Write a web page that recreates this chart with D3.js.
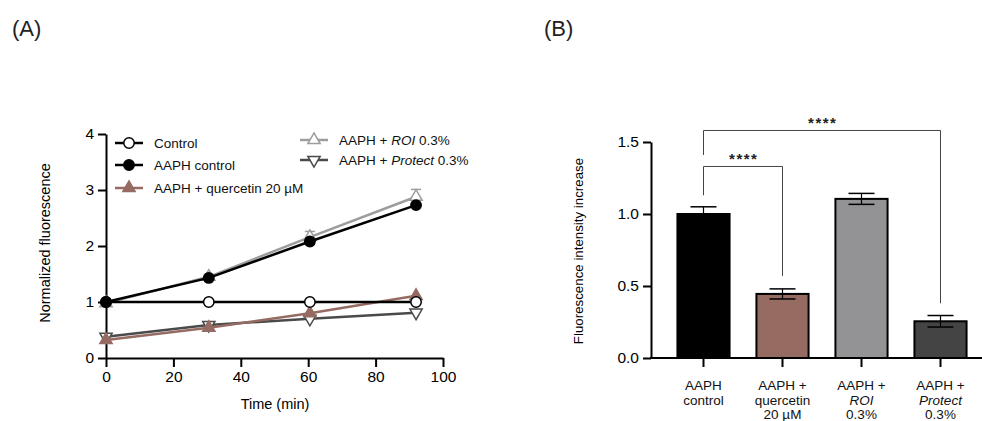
<!DOCTYPE html>
<html>
<head>
<meta charset="utf-8">
<script src="https://cdn.jsdelivr.net/npm/d3@7"></script>
<style>
  body { margin: 0; background: #fff; }
  svg { font-family: Arial, "Liberation Sans", sans-serif; }
</style>
</head>
<body>
<div id="chart"></div>
<script>
// ---- data: panel A (time course) ----
var timePoints = [0, 30.5, 60.5, 92];
var controlVals = [1, 1, 1, 1];
var aaphVals = [1, 1.43, 2.08, 2.73];
var quercetinVals = [0.32, 0.54, 0.8, 1.11];
var roiVals = [0.98, 1.45, 2.16, 2.88];
var roiErr = [0.02, 0.04, 0.1, 0.13];
var protectVals = [0.38, 0.59, 0.7, 0.81];
var protectErr = [0.02, 0.03, 0.03, 0.04];
var xTicksA = [0, 20, 40, 60, 80, 100];
var yTicksA = [0, 1, 2, 3, 4];

// ---- data: panel B (bars) ----
var barCats = [
  [["AAPH"], ["control"]],
  [["AAPH +"], ["quercetin"], ["20 µM"]],
  [["AAPH +"], ["ROI", "i"], ["0.3%"]],
  [["AAPH +"], ["Protect", "i"], ["0.3%"]]
];
var barVals = [1.0, 0.445, 1.105, 0.255];
var barErr = [0.05, 0.035, 0.038, 0.04];
var barColors = ["#000000", "#956b62", "#939396", "#444444"];
var yTicksB = [0.0, 0.5, 1.0, 1.5];

var svgWidth = 982;
var svgHeight = 421;

var svg = d3.select("#chart")
  .append("svg")
  .attr("width", svgWidth)
  .attr("height", svgHeight);

// panel labels
svg.append("text").attr("x", 12).attr("y", 36).attr("font-size", "22px").attr("fill", "#222").text("(A)");
svg.append("text").attr("x", 544).attr("y", 36).attr("font-size", "22px").attr("fill", "#222").text("(B)");

// ================= Panel A =================
var xA = d3.scaleLinear().domain([0, 100]).range([106, 443]);
var yA = d3.scaleLinear().domain([0, 4]).range([358, 134]);

var gA = svg.append("g");

var xAxisA = gA.append("g")
  .attr("transform", "translate(0,358)")
  .call(d3.axisBottom(xA).tickValues(xTicksA).tickFormat(d3.format("d")).tickSize(9).tickSizeOuter(0).tickPadding(4));
var yAxisA = gA.append("g")
  .attr("transform", "translate(106,0)")
  .call(d3.axisLeft(yA).tickValues(yTicksA).tickFormat(d3.format("d")).tickSize(8).tickSizeOuter(0).tickPadding(4));

[xAxisA, yAxisA].forEach(function(ax) {
  ax.selectAll("path, line").attr("stroke", "#000").attr("stroke-width", 2);
  ax.selectAll("text").attr("font-size", "15.5px").attr("fill", "#000").attr("font-family", "Arial, 'Liberation Sans', sans-serif");
});

gA.append("text")
  .attr("x", 275).attr("y", 409)
  .attr("text-anchor", "middle")
  .attr("font-size", "14.5px")
  .text("Time (min)");

gA.append("text")
  .attr("transform", "translate(50,243) rotate(-90)")
  .attr("text-anchor", "middle")
  .attr("font-size", "14.5px")
  .text("Normalized fluorescence");

var line = d3.line()
  .x(function(d) { return xA(d.t); })
  .y(function(d) { return yA(d.v); });

function zipSeries(vals) {
  return timePoints.map(function(t, i) { return { t: t, v: vals[i] }; });
}

var series = [
  { name: "roi", vals: roiVals, err: roiErr, color: "#9d9d9f", symbol: d3.symbolTriangle, rot: 0, fill: "#fff" },
  { name: "protect", vals: protectVals, err: protectErr, color: "#4a4a4a", symbol: d3.symbolTriangle, rot: 180, fill: "#fff" },
  { name: "quercetin", vals: quercetinVals, err: null, color: "#956b62", symbol: d3.symbolTriangle, rot: 0, fill: "#956b62" },
  { name: "control", vals: controlVals, err: null, color: "#000", symbol: d3.symbolCircle, rot: 0, fill: "#fff" },
  { name: "aaph", vals: aaphVals, err: null, color: "#000", symbol: d3.symbolCircle, rot: 0, fill: "#000" }
];

series.forEach(function(s) {
  var pts = zipSeries(s.vals);
  var g = gA.append("g");
  if (s.err) {
    pts.forEach(function(d, i) {
      var top = yA(d.v + s.err[i]);
      g.append("line")
        .attr("x1", xA(d.t)).attr("x2", xA(d.t))
        .attr("y1", yA(d.v)).attr("y2", top)
        .attr("stroke", s.color).attr("stroke-width", 1.5);
      g.append("line")
        .attr("x1", xA(d.t) - 5).attr("x2", xA(d.t) + 5)
        .attr("y1", top).attr("y2", top)
        .attr("stroke", s.color).attr("stroke-width", 1.5);
    });
  }
  g.append("path")
    .attr("d", line(pts))
    .attr("fill", "none")
    .attr("stroke", s.color)
    .attr("stroke-width", 2.5);
  var size = s.symbol === d3.symbolCircle ? 85 : 65;
  g.selectAll(".pt")
    .data(pts)
    .enter()
    .append("path")
    .attr("d", d3.symbol().type(s.symbol).size(size))
    .attr("transform", function(d) {
      return "translate(" + xA(d.t) + "," + yA(d.v) + ") rotate(" + s.rot + ")";
    })
    .attr("fill", s.fill)
    .attr("stroke", s.color)
    .attr("stroke-width", 1.5);
});

// legend
var byName = {};
series.forEach(function(s) { byName[s.name] = s; });

var legendItems = [
  { s: "control", x: 115, y: 143, parts: [["Control"]] },
  { s: "aaph", x: 115, y: 165, parts: [["AAPH control"]] },
  { s: "quercetin", x: 115, y: 188, parts: [["AAPH + quercetin 20 µM"]] },
  { s: "roi", x: 300, y: 140, parts: [["AAPH + "], ["ROI", "i"], [" 0.3%"]] },
  { s: "protect", x: 300, y: 160, parts: [["AAPH + "], ["Protect", "i"], [" 0.3%"]] }
];

legendItems.forEach(function(it) {
  var s = byName[it.s];
  var lg = gA.append("g").attr("transform", "translate(" + it.x + "," + it.y + ")");
  lg.append("line")
    .attr("x1", 0).attr("x2", 28).attr("y1", 0).attr("y2", 0)
    .attr("stroke", s.color).attr("stroke-width", 2.5);
  lg.append("path")
    .attr("d", d3.symbol().type(s.symbol).size(s.symbol === d3.symbolCircle ? 85 : 65))
    .attr("transform", "translate(14,0) rotate(" + s.rot + ")")
    .attr("fill", s.fill)
    .attr("stroke", s.color)
    .attr("stroke-width", 1.5);
  var t = lg.append("text")
    .attr("x", 39).attr("y", 5)
    .attr("font-size", "13.5px")
    .attr("fill", "#111");
  it.parts.forEach(function(p) {
    t.append("tspan").attr("font-style", p[1] === "i" ? "italic" : "normal").text(p[0]);
  });
});

// ================= Panel B =================
var xB = d3.scaleBand()
  .domain(d3.range(barVals.length))
  .range([664, 980])
  .paddingInner(0.34)
  .paddingOuter(0.17);
var yB = d3.scaleLinear().domain([0, 1.5]).range([358, 142]);

var gB = svg.append("g");

var yAxisB = gB.append("g")
  .attr("transform", "translate(651,0)")
  .call(d3.axisLeft(yB).tickValues(yTicksB).tickFormat(d3.format(".1f")).tickSize(8).tickSizeOuter(0).tickPadding(4));
yAxisB.selectAll("path, line").attr("stroke", "#000").attr("stroke-width", 2);
yAxisB.selectAll("text").attr("font-size", "15.5px").attr("fill", "#000").attr("font-family", "Arial, 'Liberation Sans', sans-serif");

gB.append("text")
  .attr("transform", "translate(583,251) rotate(-90)")
  .attr("text-anchor", "middle")
  .attr("font-size", "13.3px")
  .text("Fluorescence intensity increase");

// bars
gB.selectAll(".bar")
  .data(barVals)
  .enter()
  .append("rect")
  .attr("x", function(d, i) { return xB(i); })
  .attr("y", function(d) { return yB(d); })
  .attr("width", xB.bandwidth())
  .attr("height", function(d) { return yB(0) - yB(d); })
  .attr("fill", function(d, i) { return barColors[i]; })
  .attr("stroke", "#000")
  .attr("stroke-width", 2);

// error bars (mean +/- sd)
barVals.forEach(function(v, i) {
  var cx = xB(i) + xB.bandwidth() / 2;
  var hi = yB(v + barErr[i]);
  var lo = yB(v - barErr[i]);
  gB.append("line").attr("x1", cx).attr("x2", cx).attr("y1", lo).attr("y2", hi)
    .attr("stroke", "#000").attr("stroke-width", 1.2);
  gB.append("line").attr("x1", cx - 13).attr("x2", cx + 13).attr("y1", hi).attr("y2", hi)
    .attr("stroke", "#000").attr("stroke-width", 1.5);
  gB.append("line").attr("x1", cx - 13).attr("x2", cx + 13).attr("y1", lo).attr("y2", lo)
    .attr("stroke", "#000").attr("stroke-width", 1.5);
});

// x axis
gB.append("line")
  .attr("x1", 650).attr("x2", 982).attr("y1", 358).attr("y2", 358)
  .attr("stroke", "#000").attr("stroke-width", 2);
barVals.forEach(function(v, i) {
  var cx = xB(i) + xB.bandwidth() / 2;
  gB.append("line").attr("x1", cx).attr("x2", cx).attr("y1", 358).attr("y2", 367)
    .attr("stroke", "#000").attr("stroke-width", 2);
  var t = gB.append("text")
    .attr("x", cx).attr("y", 390)
    .attr("text-anchor", "middle")
    .attr("font-size", "13.5px")
    .attr("fill", "#111");
  barCats[i].forEach(function(p, k) {
    t.append("tspan")
      .attr("x", cx)
      .attr("dy", k === 0 ? 0 : 14.5)
      .attr("font-style", p[1] === "i" ? "italic" : "normal")
      .text(p[0]);
  });
});

// significance brackets
var brackets = [
  { a: 0, b: 1, top: 1.33, leftEnd: 1.13, rightEnd: 0.57, label: "****" },
  { a: 0, b: 3, top: 1.58, leftEnd: 1.41, rightEnd: 0.38, label: "****" }
];
brackets.forEach(function(br) {
  var xa = xB(br.a) + xB.bandwidth() / 2;
  var xb = xB(br.b) + xB.bandwidth() / 2;
  var yt = yB(br.top);
  gB.append("path")
    .attr("d", "M" + xa + "," + yB(br.leftEnd) + "V" + yt + "H" + xb + "V" + yB(br.rightEnd))
    .attr("fill", "none")
    .attr("stroke", "#444")
    .attr("stroke-width", 1);
  gB.append("text")
    .attr("x", (xa + xb) / 2 + 0.8).attr("y", yt - 2.5)
    .attr("text-anchor", "middle")
    .attr("font-size", "15px")
    .attr("font-weight", "bold")
    .attr("letter-spacing", "1.5px")
    .attr("fill", "#222")
    .text(br.label);
});
</script>
</body>
</html>
